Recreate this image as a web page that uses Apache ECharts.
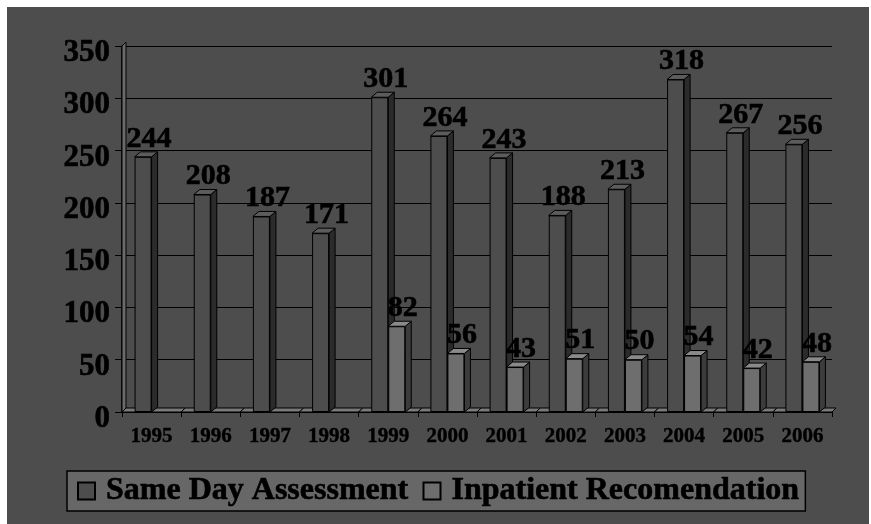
<!DOCTYPE html>
<html>
<head>
<meta charset="utf-8">
<script src="https://cdn.jsdelivr.net/npm/echarts@6/dist/echarts.min.js"></script>
<style>
  html, body { margin: 0; padding: 0; background: #ffffff; }
  #chart { position: absolute; left: 7px; top: 7px; width: 862px; height: 517px; }
</style>
</head>
<body>
<div id="chart"></div>
<script>
const categories = ['1995','1996','1997','1998','1999','2000','2001','2002','2003','2004','2005','2006'];
const sameDay = [244, 208, 187, 171, 301, 264, 243, 188, 213, 318, 267, 256];
const inpatient = [null, null, null, null, 82, 56, 43, 51, 50, 54, 42, 48];
const yTicks = [0, 50, 100, 150, 200, 250, 300, 350];
const seriesNames = ['Same Day Assessment', 'Inpatient Recomendation'];

const BW = 17, DX = 6, DY = 5;
const FONT = '"Liberation Serif", "Times New Roman", serif';

function faces(offset, sideColor, topColor) {
  return function (params, api) {
    const v = api.value(1);
    if (v == null || isNaN(v)) return null;
    const i = api.value(0);
    const t = api.coord([i, v]);
    const b = api.coord([i, 0]);
    const x0 = t[0] + offset, x1 = x0 + BW;
    return {
      type: 'group',
      children: [
        { type: 'polygon', shape: { points: [[x1, t[1]], [x1 + DX, t[1] - DY], [x1 + DX, b[1] - DY], [x1, b[1]]] },
          style: { fill: sideColor, stroke: '#000', lineWidth: 1 } },
        { type: 'polygon', shape: { points: [[x0, t[1]], [x0 + DX, t[1] - DY], [x1 + DX, t[1] - DY], [x1, t[1]]] },
          style: { fill: topColor, stroke: '#000', lineWidth: 1 } }
      ]
    };
  };
}

function floor(params, api) {
  const i = api.value(0);
  const c = api.coord([i, 0]);
  const w = api.size([1, 0])[0];
  const xa = c[0] - w / 2, xb = c[0] + w / 2;
  const children = [
    { type: 'polygon', shape: { points: [[xa, c[1]], [xa + DX - 2, c[1] - DY + 1], [xb + DX - 2, c[1] - DY + 1], [xb, c[1]]] },
      style: { fill: '#7a7a7a', stroke: '#000', lineWidth: 1 } }
  ];
  if (i === 0) {
    const top = api.coord([i, yTicks[yTicks.length - 1]]);
    children.push({ type: 'polygon', shape: { points: [[xa, c[1]], [xa + DX - 2, c[1] - DY + 1], [xa + DX - 2, top[1] - DY + 1], [xa, top[1]]] },
      style: { fill: '#6a6a6a', stroke: '#000', lineWidth: 1 } });
  }
  return { type: 'group', children: children };
}

const labelCfg = {
  show: true, position: 'top', distance: 3, offset: [6, 0],
  color: '#000', fontFamily: FONT, fontWeight: 'bold', fontSize: 30,
  textBorderColor: '#000', textBorderWidth: 0.6
};

const chart = echarts.init(document.getElementById('chart'));
chart.setOption({
  backgroundColor: '#4d4d4d',
  animation: false,
  grid: { left: 115, top: 39, width: 710, bottom: 112, containLabel: false },
  legend: {
    data: seriesNames,
    left: 60, top: 464,
    backgroundColor: '#676767', borderColor: '#000', borderWidth: 1.5,
    padding: [2, 6, 2, 10],
    itemWidth: 17, itemHeight: 17, itemGap: 14,
    icon: 'rect',
    textStyle: { color: '#000', fontFamily: FONT, fontWeight: 'bold', fontSize: 32, lineHeight: 36, padding: [0, 0, 0, 6],
      textBorderColor: '#000', textBorderWidth: 0.6 }
  },
  xAxis: {
    type: 'category', data: categories,
    axisLine: { lineStyle: { color: '#000', width: 1.5 } },
    axisTick: { show: true, length: 5, lineStyle: { color: '#000' } },
    axisLabel: { color: '#000', fontFamily: FONT, fontWeight: 'bold', fontSize: 21, margin: 14,
      textBorderColor: '#000', textBorderWidth: 0.4 }
  },
  yAxis: {
    type: 'value', min: yTicks[0], max: yTicks[yTicks.length - 1], interval: 50,
    axisLine: { show: true, lineStyle: { color: '#000', width: 1.5 } },
    axisTick: { show: true, length: 7, lineStyle: { color: '#000' } },
    splitLine: { lineStyle: { color: '#000', width: 1 } },
    axisLabel: { color: '#000', fontFamily: FONT, fontWeight: 'bold', fontSize: 31, margin: 12,
      verticalAlign: 'top', lineHeight: 14, textBorderColor: '#000', textBorderWidth: 0.6 }
  },
  series: [
    {
      name: 'floor', type: 'custom', z: 1, silent: true,
      data: categories.map((c, i) => [i, 0]),
      renderItem: floor
    },
    {
      name: seriesNames[0], type: 'bar', data: sameDay, barWidth: BW, barGap: '0%', z: 3,
      itemStyle: { color: '#4d4d4d', borderColor: '#000', borderWidth: 1 },
      label: labelCfg
    },
    {
      name: seriesNames[1], type: 'bar', data: inpatient, barWidth: BW, barGap: '0%', z: 3,
      itemStyle: { color: '#6e6e6e', borderColor: '#000', borderWidth: 1 },
      label: labelCfg
    },
    {
      name: 'sd3d', type: 'custom', z: 2, silent: true,
      data: sameDay.map((v, i) => [i, v]),
      renderItem: faces(-BW, '#2b2b2b', '#5c5c5c')
    },
    {
      name: 'ip3d', type: 'custom', z: 2, silent: true,
      data: inpatient.map((v, i) => [i, v]),
      renderItem: faces(0, '#3c3c3c', '#8a8a8a')
    }
  ]
});
</script>
</body>
</html>
